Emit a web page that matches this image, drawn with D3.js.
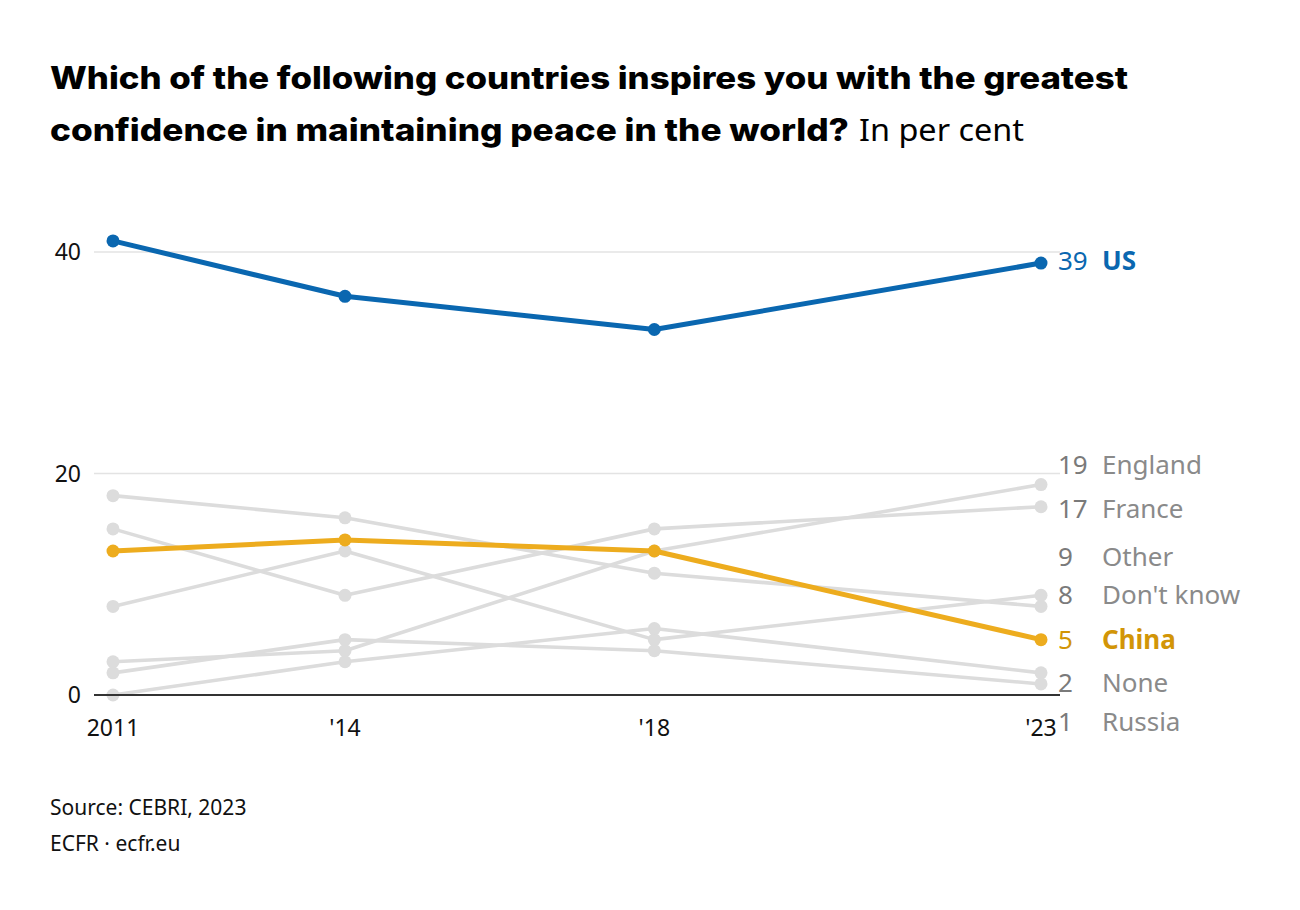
<!DOCTYPE html>
<html>
<head>
<meta charset="utf-8">
<script src="https://cdn.jsdelivr.net/npm/d3@7"></script>
<style>
  body { margin: 0; background: #fff; }
  svg { display: block; }
</style>
</head>
<body>
<svg id="chart" width="1300" height="910"></svg>
<script>
const years = [2011, 2014, 2018, 2023];
const yearLabels = ["2011", "'14", "'18", "'23"];
const yTicks = [0, 20, 40];

const seriesNames = ["Don't know", "France", "Other", "England", "None", "Russia", "China", "US"];
const dontKnow = [18, 16, 11, 8];
const france = [15, 9, 15, 17];
const other = [8, 13, 5, 9];
const england = [3, 4, 13, 19];
const none = [0, 3, 6, 2];
const russia = [2, 5, 4, 1];
const china = [13, 14, 13, 5];
const us = [41, 36, 33, 39];
// label y in data units (adjusted to avoid overlaps)
const labelPos = [9.03, 16.8, 12.46, 20.77, 1.08, -2.44, 4.97, 39.19];

const seriesValues = [dontKnow, france, other, england, none, russia, china, us];
const highlight = { "US": { line: "#0a67b0", label: "#0a67b0" }, "China": { line: "#edac1e", label: "#d29507" } };

const svg = d3.select("#chart");
const x = d3.scaleLinear().domain([2011, 2023]).range([113, 1041]);
const y = d3.scaleLinear().domain([0, 40]).range([695, 252]);

// Title
svg.append("text").attr("x", 50).attr("y", 89)
  .style("font-family", "Inter, 'Noto Sans', sans-serif").style("font-weight", 800)
  .style("font-size", "31px").attr("fill", "#000")
  .attr("textLength", 1078).attr("lengthAdjust", "spacingAndGlyphs")
  .text("Which of the following countries inspires you with the greatest");
svg.append("text").attr("x", 50).attr("y", 141)
  .style("font-family", "Inter, 'Noto Sans', sans-serif").style("font-weight", 800)
  .style("font-size", "31px").attr("fill", "#000")
  .attr("textLength", 799).attr("lengthAdjust", "spacingAndGlyphs")
  .text("confidence in maintaining peace in the world?");
svg.append("text").attr("x", 859).attr("y", 141)
  .style("font-family", "'Noto Sans', sans-serif").style("font-weight", 400)
  .style("font-size", "31px").attr("fill", "#000")
  .attr("textLength", 165).attr("lengthAdjust", "spacingAndGlyphs")
  .text("In per cent");

// Grid
const gridG = svg.append("g");
gridG.selectAll("line.grid").data(yTicks.filter(d => d !== 0)).join("line")
  .attr("x1", 94).attr("x2", 1060)
  .attr("y1", d => y(d)).attr("y2", d => y(d))
  .attr("stroke", "#e3e3e3").attr("stroke-width", 1.5);
gridG.selectAll("text.ytick").data(yTicks).join("text")
  .attr("x", 81).attr("y", d => y(d) + 8)
  .attr("text-anchor", "end")
  .style("font-family", "'Noto Sans', sans-serif").style("font-size", "23px")
  .attr("fill", "#111").text(d => d);

// x axis labels
svg.selectAll("text.xtick").data(years).join("text")
  .attr("x", d => x(d)).attr("y", 736)
  .attr("text-anchor", "middle")
  .style("font-family", "'Noto Sans', sans-serif").style("font-size", "23px")
  .attr("fill", "#111").text((d, i) => yearLabels[i]);

// Lines
const line = d3.line().x((d, i) => x(years[i])).y(d => y(d));
const series = seriesNames.map((n, i) => ({ name: n, values: seriesValues[i], lp: labelPos[i] }));
const grays = series.filter(s => !highlight[s.name]);
const hl = series.filter(s => highlight[s.name]);

function drawSeries(list, isHl) {
  const g = svg.append("g");
  list.forEach(s => {
    const col = isHl ? highlight[s.name].line : "#dcdcdc";
    g.append("path").datum(s.values).attr("d", line)
      .attr("fill", "none").attr("stroke", col)
      .attr("stroke-width", isHl ? 5 : 3.6).attr("stroke-linejoin", "round");
    g.selectAll(null).data(s.values).join("circle")
      .attr("cx", (d, i) => x(years[i])).attr("cy", d => y(d))
      .attr("r", 6.5).attr("fill", col);
  });
}
drawSeries(grays, false);

// baseline
svg.append("line").attr("x1", 94).attr("x2", 1060).attr("y1", y(0)).attr("y2", y(0))
  .attr("stroke", "#333").attr("stroke-width", 2);

drawSeries(hl, true);

// Labels
series.forEach(s => {
  const isHl = !!highlight[s.name];
  const numCol = isHl ? highlight[s.name].label : "#7a7a7a";
  const nameCol = isHl ? highlight[s.name].label : "#8a8a8a";
  const yy = y(s.lp) + 9;
  svg.append("text").attr("x", 1058).attr("y", yy)
    .style("font-family", "'Noto Sans', sans-serif").style("font-size", "26px")
    .attr("fill", numCol).text(s.values[s.values.length - 1]);
  svg.append("text").attr("x", 1102).attr("y", yy)
    .style("font-family", "'Noto Sans', sans-serif").style("font-size", "26px")
    .style("font-weight", isHl ? 700 : 400)
    .attr("fill", nameCol).text(s.name);
});

// Footer
svg.append("text").attr("x", 50).attr("y", 815)
  .style("font-family", "'Noto Sans', sans-serif").style("font-size", "21px")
  .attr("fill", "#111").text("Source: CEBRI, 2023");
svg.append("text").attr("x", 50).attr("y", 851)
  .style("font-family", "'Noto Sans', sans-serif").style("font-size", "21px")
  .attr("fill", "#111").text("ECFR · ecfr.eu");
</script>
</body>
</html>
